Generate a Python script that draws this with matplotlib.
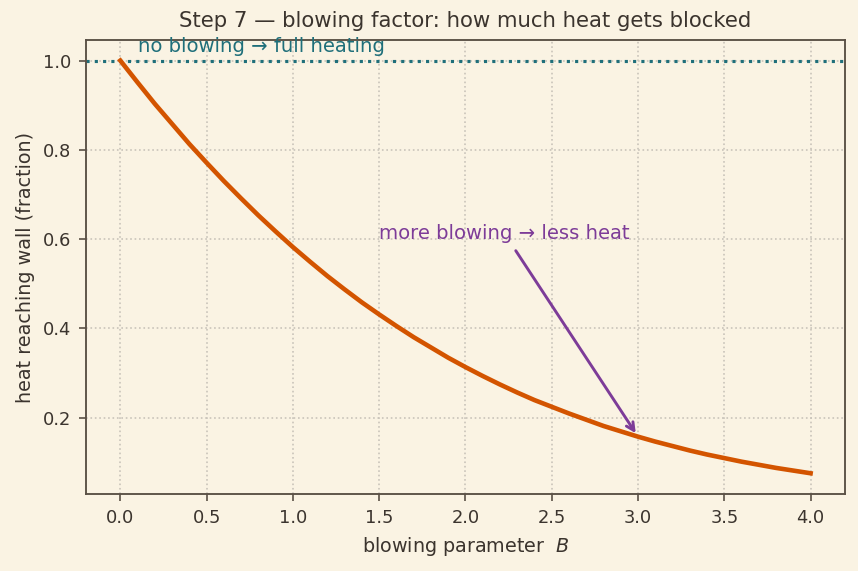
import matplotlib.pyplot as plt

# blowing parameter and fraction of heat reaching the wall
blowing = [0.0, 0.1, 0.2, 0.3, 0.4, 0.5, 0.6, 0.7, 0.8, 0.9,
           1.0, 1.1, 1.2, 1.3, 1.4, 1.5, 1.6, 1.7, 1.8, 1.9,
           2.0, 2.1, 2.2, 2.3, 2.4, 2.5, 2.6, 2.7, 2.8, 2.9,
           3.0, 3.1, 3.2, 3.3, 3.4, 3.5, 3.6, 3.7, 3.8, 3.9, 4.0]
heat_frac = [1.000, 0.951, 0.903, 0.858, 0.813, 0.771, 0.730, 0.691, 0.653, 0.617,
             0.582, 0.549, 0.517, 0.487, 0.458, 0.431, 0.405, 0.380, 0.357, 0.334,
             0.313, 0.293, 0.274, 0.256, 0.239, 0.224, 0.209, 0.195, 0.181, 0.169,
             0.157, 0.146, 0.136, 0.126, 0.117, 0.109, 0.101, 0.094, 0.087, 0.081, 0.075]
arrow_at = 3.0

bg = '#faf3e3'
ink = '#3b342e'
spine_col = '#5a5045'

plt.rcParams['font.family'] = ['DejaVu Sans']
plt.rcParams['text.color'] = ink
plt.rcParams['axes.labelcolor'] = ink
plt.rcParams['xtick.color'] = ink
plt.rcParams['ytick.color'] = ink

fig, ax = plt.subplots(figsize=(5.72, 3.807), dpi=150)
fig.patch.set_facecolor(bg)
ax.set_facecolor(bg)

ax.axhline(1.0, color='#1f6f7a', linestyle=':', linewidth=1.5)
ax.plot(blowing, heat_frac, color='#d35400', linewidth=2.2)

ax.text(0.1, 1.02, 'no blowing \u2192 full heating', color='#1f6f7a', fontsize=9.4)
ax.annotate('more blowing \u2192 less heat', xy=(arrow_at, heat_frac[blowing.index(arrow_at)]),
            xytext=(1.5, 0.6), color='#7d3c98', fontsize=9.4,
            arrowprops=dict(arrowstyle='->', color='#7d3c98', lw=1.4))

ax.set_title('Step 7 \u2014 blowing factor: how much heat gets blocked', fontsize=10.2, color=ink)
ax.set_xlabel('blowing parameter  $B$', fontsize=9.2)
ax.set_ylabel('heat reaching wall (fraction)', fontsize=9.2)
ax.tick_params(labelsize=8.6, color=spine_col)
ax.set_yticks([0.2, 0.4, 0.6, 0.8, 1.0])
ax.grid(True, linestyle=':', color='#c9c4ba', linewidth=0.8)
for s in ax.spines.values():
    s.set_color(spine_col)
    s.set_linewidth(0.9)

fig.subplots_adjust(left=0.1, right=0.985, top=0.93, bottom=0.135)
fig.savefig('out.png', facecolor=bg)
